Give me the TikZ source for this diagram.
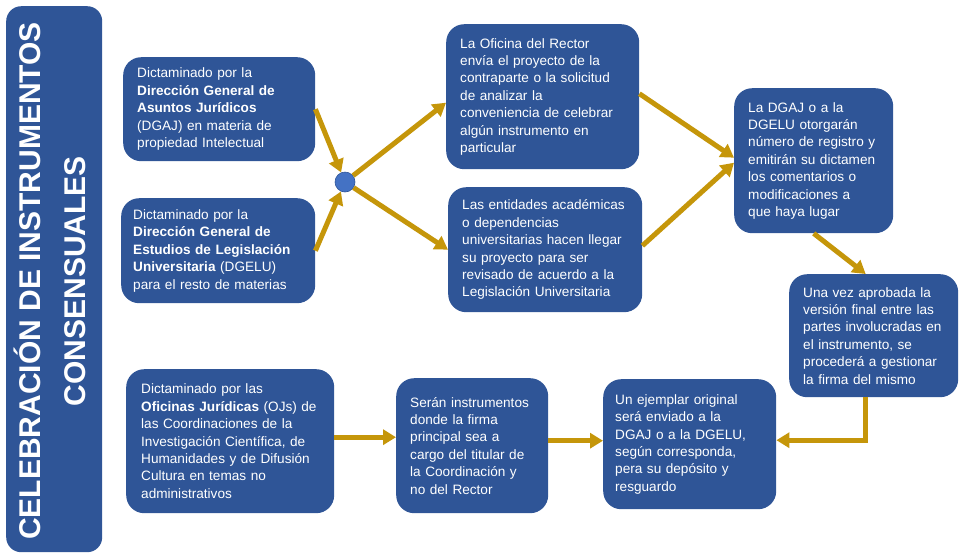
\documentclass[tikz,border=0pt]{standalone}
\usepackage{fontspec}
\setmainfont{Liberation Sans}
\usetikzlibrary{arrows.meta}
\definecolor{boxblue}{RGB}{47,85,151}
\definecolor{dotblue}{RGB}{68,114,196}
\definecolor{gold}{RGB}{197,150,10}

\begin{document}
\begin{tikzpicture}[x=1pt, y=-1pt,
    box/.style={fill=boxblue, rounded corners=18pt, text=white, anchor=north west,
      align=left, inner xsep=14pt, inner ysep=0pt, font=\fontsize{13.6}{17.4}\selectfont},
    arr/.style={draw=gold, line width=5pt, -{Triangle[length=13pt,width=15pt]}}]
    \useasboundingbox (0,0) rectangle (961,558);
    % Title bar
    \node[fill=boxblue, rounded corners=15pt, anchor=north west, minimum width=96pt,
      minimum height=546pt, inner sep=0pt] (bar) at (6,6) {};
    \node[rotate=90, text=white, align=center, inner sep=0pt,
      font=\fontsize{30}{45}\selectfont\bfseries] (title) at (50,281)
      {CELEBRACIÓN DE INSTRUMENTOS\\CONSENSUALES};
    % Upper branch
    \node[box, minimum width=192pt, minimum height=104pt, text width=164pt] (dgaj) at (123,57)
      {Dictaminado por la\\ \textbf{Dirección General de}\\ \textbf{Asuntos Jurídicos}\\
       (DGAJ) en materia de\\ propiedad Intelectual};
    \node[box, inner xsep=12pt, minimum width=194pt, minimum height=105pt, text width=170pt] (dgelu) at (121,198)
      {Dictaminado por la\\ \textbf{Dirección General de}\\ \textbf{Estudios de Legislación}\\
       \textbf{Universitaria} (DGELU)\\ para el resto de materias};
    \node[circle, fill=dotblue, draw=boxblue, line width=0.6pt, minimum size=20pt, inner sep=0pt] (dot) at (345,182) {};
    \node[box, minimum width=193pt, minimum height=145pt, text width=165pt] (rector) at (446,24)
      {La Oficina del Rector\\ envía el proyecto de la\\ contraparte o la solicitud\\ de analizar la\\
       conveniencia de celebrar\\ algún instrumento en\\ particular};
    \node[box, minimum width=194pt, minimum height=125pt, text width=166pt] (entidades) at (448,187)
      {Las entidades académicas\\ o dependencias\\ universitarias hacen llegar\\ su proyecto para ser\\
       revisado de acuerdo a la\\ Legislación Universitaria};
    \node[box, minimum width=159pt, minimum height=145pt, text width=131pt] (registro) at (734,88)
      {La DGAJ o a la\\ DGELU otorgarán\\ número de registro y\\ emitirán su dictamen\\
       los comentarios o\\ modificaciones a\\ que haya lugar};
    \node[box, minimum width=169pt, minimum height=123pt, text width=141pt] (aprobada) at (789,274)
      {Una vez aprobada la\\ versión final entre las\\ partes involucradas en\\ el instrumento, se\\
       procederá a gestionar\\ la firma del mismo};
    % Lower branch
    \node[box, inner xsep=15pt, minimum width=208pt, minimum height=144pt, text width=178pt] (ojs) at (126,369)
      {Dictaminado por las\\ \textbf{Oficinas Jurídicas} (OJs) de\\ las Coordinaciones de la\\
       Investigación Científica, de\\ Humanidades y de Difusión\\ Cultura en temas no\\ administrativos};
    \node[box, minimum width=152pt, minimum height=135pt, text width=124pt] (firma) at (396,378)
      {Serán instrumentos\\ donde la firma\\ principal sea a\\ cargo del titular de\\
       la Coordinación y\\ no del Rector};
    \node[box, inner xsep=12pt, minimum width=173pt, minimum height=130pt, text width=149pt] (deposito) at (603,379)
      {Un ejemplar original\\ será enviado a la\\ DGAJ o a la DGELU,\\ según corresponda,\\
       pera su depósito y\\ resguardo};
    % Arrows
    \draw[arr] (dgaj.east) -- (dot);
    \draw[arr] (dgelu.east) -- (dot);
    \draw[arr] (dot) -- ([yshift=-6pt]rector.west);
    \draw[arr] (dot) -- (entidades.west);
    \draw[arr] ([yshift=3pt]rector.east) -- ([yshift=3pt]registro.west);
    \draw[arr] ([yshift=4pt]entidades.east) -- ([yshift=-2pt]registro.west);
    \draw[arr] (registro.south) -- ([xshift=-8pt]aprobada.north);
    \draw[arr] ([xshift=-8pt]aprobada.south) |- ([yshift=4pt]deposito.east);
    \draw[arr] ([yshift=4pt]ojs.east) -- ([yshift=4pt]ojs.east -| firma.west);
    \draw[arr] ([yshift=5pt]firma.east) -- ([yshift=5pt]firma.east -| deposito.west);
\end{tikzpicture}
\end{document}
